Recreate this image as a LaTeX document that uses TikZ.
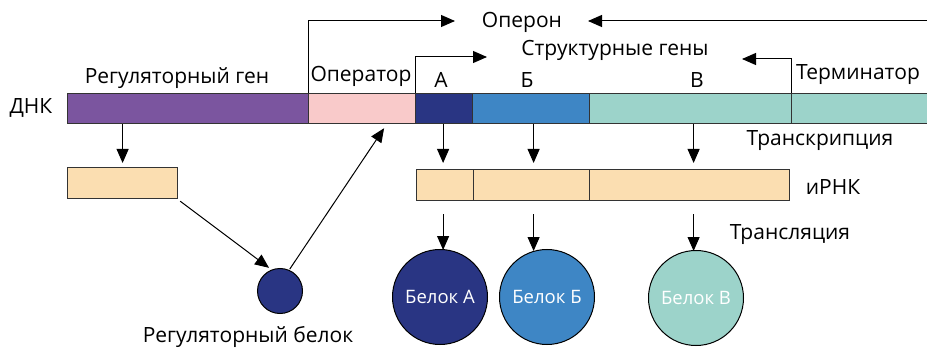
\documentclass[tikz,border=0pt]{standalone}
\usepackage{fontspec}
\setmainfont{Open Sans}
\usetikzlibrary{arrows.meta}
\definecolor{cpurple}{HTML}{7B559F}
\definecolor{cpink}{HTML}{F9CACA}
\definecolor{cdark}{HTML}{293583}
\definecolor{cblue}{HTML}{3E86C5}
\definecolor{cteal}{HTML}{9CD3CA}
\definecolor{cmrna}{HTML}{FBDEB1}
\definecolor{cedge}{HTML}{333333}
\begin{document}
\begin{tikzpicture}[x=1pt,y=-1pt,line width=1pt,
  arr/.style={-{Triangle[length=14pt,width=12pt]}},
  seg/.style={draw=cedge,line width=1.2pt,anchor=north west,inner sep=0pt,minimum height=30pt},
  mseg/.style={draw=cedge,line width=1.2pt,fill=cmrna,anchor=north west,inner sep=0pt,minimum height=31pt},
  lbl/.style={font=\fontsize{21}{24}\selectfont,inner sep=0pt},
  prot/.style={circle,draw=black,line width=1pt,minimum size=95pt,inner sep=0pt,text=white,font=\fontsize{18.5}{21}\selectfont}]
\useasboundingbox (0,0) rectangle (927,350);
% DNA
\node[seg,fill=cpurple,minimum width=241pt] (reg) at (67,93) {};
\node[seg,fill=cpink,minimum width=107pt] (oper) at (308,93) {};
\node[seg,fill=cdark,minimum width=57pt] (gA) at (415,93) {};
\node[seg,fill=cblue,minimum width=117pt] (gB) at (472,93) {};
\node[seg,fill=cteal,minimum width=202pt] (gV) at (589,93) {};
\node[seg,fill=cteal,minimum width=140pt] (term) at (791,93) {};
% labels
\node[lbl] (dnk) at (31,108) {ДНК};
\node[lbl] (lreg) at (177,78) {Регуляторный ген};
\node[lbl] (loper) at (361,76) {Оператор};
\node[lbl] (lA) at (441,80) {А};
\node[lbl] (lB) at (527,80) {Б};
\node[lbl] (lV) at (697,80) {В};
\node[lbl] (lterm) at (858,75) {Терминатор};
\node[lbl] (operon) at (522,22) {Оперон};
\node[lbl] (struct) at (615,50) {Структурные гены};
\node[lbl] (transc) at (820,141) {Транскрипция};
\node[lbl] (irnk) at (833,187) {иРНК};
\node[lbl] (transl) at (790,235) {Трансляция};
\node[lbl] (lrp) at (248,337) {Регуляторный белок};
% arrow ends
\coordinate (opL) at (455,21);
\coordinate (opR) at (927,21);
\coordinate (opRtip) at (588,21);
\coordinate (stL) at (487,57);
\coordinate (stR) at (742,59);
% operon arrows
\draw[arr] (oper.north west) |- (opL);
\draw[arr] (opR) -- (opRtip);
% structural genes arrows
\draw[arr] (gA.north west) |- (stL);
\draw[arr] (term.north west) |- (stR);
% mRNA
\node[mseg,minimum width=110pt,minimum height=31pt] (regm) at (67,167) {};
\node[mseg,minimum width=57pt] (mA) at (416,169) {};
\node[mseg,minimum width=116pt] (mB) at (473,169) {};
\node[mseg,minimum width=200pt] (mV) at (589,169) {};
% proteins
\node[prot,fill=cdark] (pA) at (440,297) {Белок А};
\node[prot,fill=cblue] (pB) at (547,297) {Белок Б};
\node[prot,fill=cteal] (pV) at (696,298) {Белок В};
\node[circle,draw=black,fill=cdark,minimum size=45pt,inner sep=0pt] (rp) at (280,291) {};
% transcription arrows
\draw[arr] (regm.north |- reg.south) -- ([yshift=4pt]regm.north);
\draw[arr] ([xshift=-2pt]mA.north |- gA.south) -- ([xshift=-2pt,yshift=6pt]mA.north);
\draw[arr] ([xshift=2pt]mB.north |- gB.south) -- ([xshift=2pt,yshift=6pt]mB.north);
\draw[arr] ([xshift=4pt]mV.north |- gV.south) -- ([xshift=4pt,yshift=6pt]mV.north);
% translation arrows
\draw[arr] ([xshift=-2pt,yshift=-13pt]mA.south) -- ([xshift=-2pt,yshift=-1pt]mA.south |- pA.north);
\draw[arr] ([xshift=2pt,yshift=-13pt]mB.south) -- ([xshift=2pt,yshift=-2pt]mB.south |- pB.north);
\draw[arr] ([xshift=4pt,yshift=-13pt]mV.south) -- ([xshift=4pt,yshift=-1pt]mV.south |- pV.north);
% regulatory protein arrows
\draw[arr] ([shift={(2pt,-2pt)}]regm.south east) -- ([shift={(-2pt,2pt)}]rp.113);
\draw[arr] ([shift={(0pt,1pt)}]rp.65) -- ([xshift=22pt,yshift=-4pt]oper.south);
\end{tikzpicture}
\end{document}
